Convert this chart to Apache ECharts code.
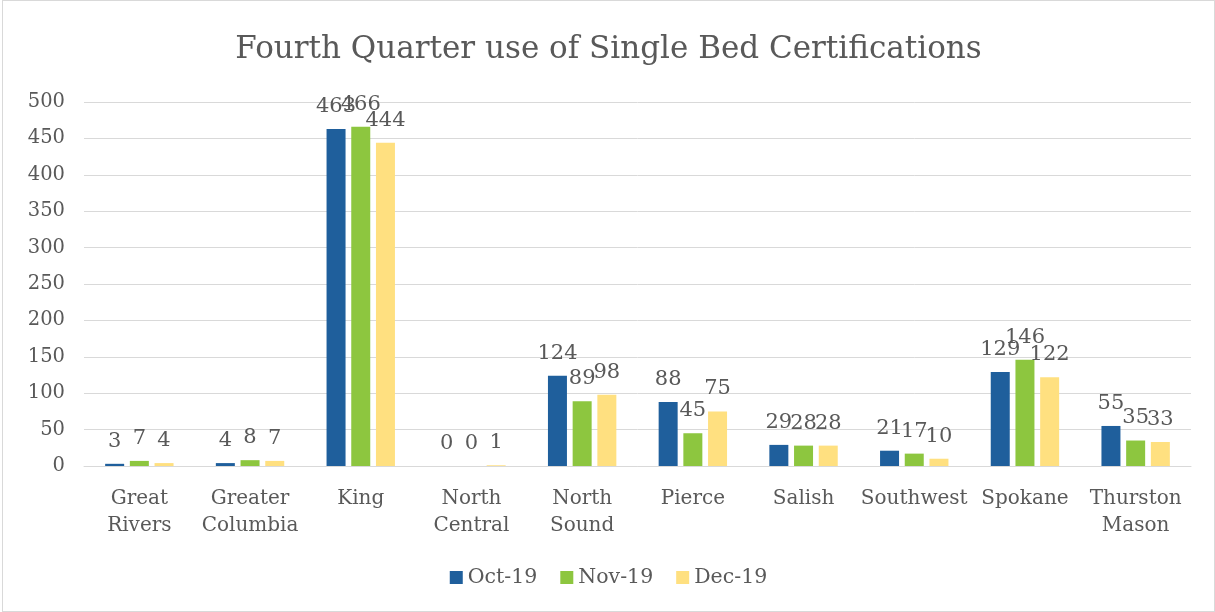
<!DOCTYPE html>
<html>
<head>
<meta charset="utf-8">
<script src="https://cdn.jsdelivr.net/npm/echarts@6/dist/echarts.min.js"></script>
<style>
html,body{margin:0;padding:0;background:#fff;}
#main{position:absolute;left:2px;top:0;width:1211px;height:610px;border:1px solid #d9d9d9;}
</style>
</head>
<body>
<div id="main"></div>
<script>
// 数据
var regions = ['Great\nRivers', 'Greater\nColumbia', 'King', 'North\nCentral', 'North\nSound', 'Pierce', 'Salish', 'Southwest', 'Spokane', 'Thurston\nMason'];
var octData = [3, 4, 463, 0, 124, 88, 29, 21, 129, 55];
var novData = [7, 8, 466, 0, 89, 45, 28, 17, 146, 35];
var decData = [4, 7, 444, 1, 98, 75, 28, 10, 122, 33];
var yTicks = [0, 50, 100, 150, 200, 250, 300, 350, 400, 450, 500];

var fontFam = 'DejaVu Serif';
var txtColor = '#595959';

var myChart = echarts.init(document.getElementById('main'));

var makeSeries = function (name, data, color) {
	return {
		name: name,
		type: 'bar',
		data: data,
		barWidth: 19,
		barGap: '30%',
		itemStyle: {color: color},
		label: {
			show: true,
			position: 'top',
			distance: 12,
			color: txtColor,
			fontFamily: fontFam,
			fontSize: 21
		}
	};
};

var option = {
	animation: false,
	title: {
		text: 'Fourth Quarter use of Single Bed Certifications',
		left: 'center',
		top: 28,
		textStyle: {
			fontFamily: fontFam,
			fontWeight: 'normal',
			fontSize: 31,
			color: txtColor
		}
	},
	legend: {
		bottom: 18,
		left: 'center',
		itemWidth: 13,
		itemHeight: 13,
		itemGap: 23,
		icon: 'rect',
		textStyle: {
			fontFamily: fontFam,
			fontSize: 20.5,
			color: txtColor
		},
		data: ['Oct-19', 'Nov-19', 'Dec-19']
	},
	grid: {
		left: 81,
		right: 23,
		top: 101,
		bottom: 145,
		containLabel: false
	},
	xAxis: {
		type: 'category',
		data: regions,
		axisLine: {lineStyle: {color: '#d9d9d9', width: 1}},
		axisTick: {show: false},
		axisLabel: {
			fontFamily: fontFam,
			fontSize: 20,
			color: txtColor,
			lineHeight: 27,
			margin: 19,
			interval: 0
		}
	},
	yAxis: {
		type: 'value',
		min: yTicks[0],
		max: yTicks[yTicks.length - 1],
		interval: 50,
		axisLine: {show: false},
		axisTick: {show: false},
		splitLine: {lineStyle: {color: '#d9d9d9', width: 1}},
		axisLabel: {
			fontFamily: fontFam,
			fontSize: 19.5,
			color: txtColor,
			margin: 19
		}
	},
	series: [
		makeSeries('Oct-19', octData, '#1f5f9c'),
		makeSeries('Nov-19', novData, '#8dc63f'),
		makeSeries('Dec-19', decData, '#ffe080')
	]
};

myChart.setOption(option);
</script>
</body>
</html>
